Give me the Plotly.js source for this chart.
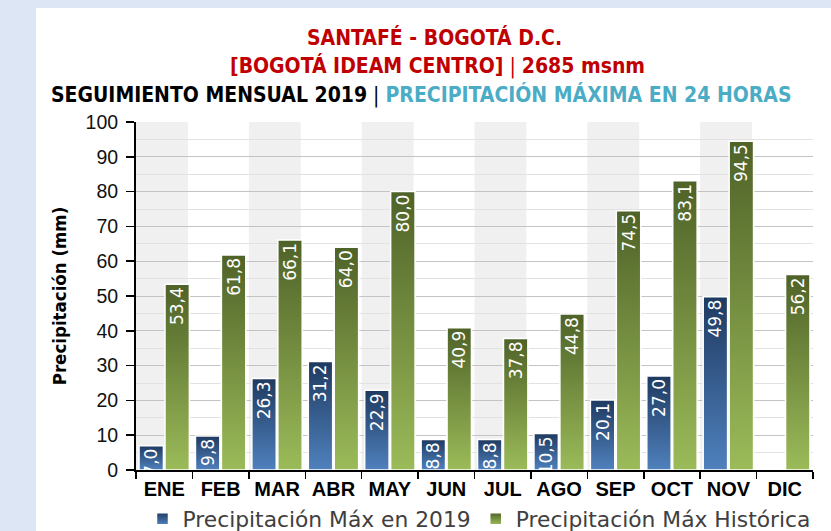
<!DOCTYPE html>
<html>
<head>
<meta charset="utf-8">
<script src="https://cdn.plot.ly/plotly-3.0.1.min.js"></script>
<style>html,body{margin:0;padding:0;background:#dce6f4;}#chart{width:831px;height:531px;}</style>
</head>
<body>
<div id="chart"></div>
<script>
// ---- data ----
var months = ['ENE','FEB','MAR','ABR','MAY','JUN','JUL','AGO','SEP','OCT','NOV','DIC'];
var max2019 = [7.0, 9.8, 26.3, 31.2, 22.9, 8.8, 8.8, 10.5, 20.1, 27.0, 49.8, null];
var maxHist = [53.4, 61.8, 66.1, 64.0, 80.0, 40.9, 37.8, 44.8, 74.5, 83.1, 94.5, 56.2];
var name2019 = 'Precipitación Máx en 2019';
var nameHist = 'Precipitación Máx Histórica';

function fmt(v){ return (v === null || v === undefined) ? '' : v.toFixed(1).replace('.', ','); }

var narrow = '"DejaVu Sans Condensed", "Liberation Sans", sans-serif';
var arial = '"Liberation Sans", Arial, sans-serif';
var labelFont = {family: '"DejaVu Sans", sans-serif', size: 17, color: '#ffffff'};

var common = {
  type: 'bar', x: months,
  textposition: 'inside', insidetextanchor: 'end', textangle: -90,
  constraintext: 'none', cliponaxis: false,
  insidetextfont: labelFont, textfont: labelFont,
  hoverinfo: 'skip'
};
var t1 = Object.assign({}, common, {
  name: name2019, y: max2019, text: max2019.map(fmt),
  marker: {color: '#3a64a0', line: {color: '#ffffff', width: 1.5}}
});
var t2 = Object.assign({}, common, {
  name: nameHist, y: maxHist, text: maxHist.map(fmt),
  marker: {color: '#76933c', line: {color: '#ffffff', width: 1.5}}
});

// layout decorations
var L = 136, R = 18, T = 122, B = 61, W = 831, H = 531;
var pw = W - L - R, ph = H - T - B;
function px2x(p){ return (p - L) / pw; }
function py2y(p){ return (H - B - p) / ph; }

var shapes = [{
  type: 'rect', xref: 'paper', yref: 'paper', layer: 'below',
  x0: px2x(36), x1: px2x(840), y0: py2y(540), y1: py2y(8),
  fillcolor: '#ffffff', line: {width: 0}
}];
months.forEach(function(m, i){
  if (i % 2 === 0) {
    shapes.push({type: 'rect', xref: 'x', yref: 'paper', layer: 'below',
      x0: i - 0.5, x1: i + 0.42, y0: 0, y1: 1,
      fillcolor: '#f0f0f0', line: {width: 0}});
  }
});

var titleFont = {family: narrow, size: 21};
var annotations = [
  {text: '<b>SANTAFÉ - BOGOTÁ D.C.</b>', x: px2x(434), y: py2y(38), font: Object.assign({}, titleFont, {color: '#c00000'})},
  {text: '<b>[BOGOTÁ IDEAM CENTRO]</b> | <b>2685 msnm</b>', x: px2x(437), y: py2y(66), font: Object.assign({}, titleFont, {color: '#c00000'})},
  {text: '<b>SEGUIMIENTO MENSUAL 2019</b> | <b><span style="color:#4bacc6">PRECIPITACIÓN MÁXIMA EN 24 HORAS</span></b>', x: px2x(421), y: py2y(95), font: Object.assign({}, titleFont, {color: '#000000'})}
].map(function(a){ return Object.assign({xref: 'paper', yref: 'paper', xanchor: 'center', yanchor: 'middle', showarrow: false}, a); });

var layout = {
  width: W, height: H,
  margin: {l: L, r: R, t: T, b: B, autoexpand: false},
  paper_bgcolor: '#dce6f4', plot_bgcolor: 'rgba(0,0,0,0)',
  barmode: 'group', bargap: 0.08, bargroupgap: 0.06,
  showlegend: true,
  legend: {orientation: 'h', x: px2x(479), xanchor: 'center', y: py2y(519), yanchor: 'middle',
    font: {family: '"DejaVu Sans", sans-serif', size: 21.8, color: '#404040'},
    bgcolor: 'rgba(0,0,0,0)', itemwidth: 30},
  xaxis: {type: 'category', showgrid: false, ticks: 'outside', tickson: 'boundaries', tickangle: 0,
    ticklen: 7, tickwidth: 1.5, tickcolor: '#000', showline: true, linecolor: '#000', linewidth: 2,
    tickfont: {family: arial, size: 20, color: '#000', weight: 'bold'}, fixedrange: true},
  yaxis: {range: [0, 100], dtick: 10, ticks: 'outside', ticklen: 8, tickwidth: 1.5, tickcolor: '#000',
    ticklabelstandoff: 4,
    showline: true, linecolor: '#000', linewidth: 2, zeroline: false,
    gridcolor: '#c4c4c4', gridwidth: 1,
    minor: {dtick: 5, showgrid: true, gridcolor: '#e2e2e2', gridwidth: 1, ticks: ''},
    tickfont: {family: arial, size: 19.5, color: '#111'},
    title: {text: 'Precipitación (mm)', font: {family: narrow, size: 18.5, color: '#000', weight: 'bold'}, standoff: 14},
    fixedrange: true},
  shapes: shapes,
  annotations: annotations
};

function addGradients(gd){
  var svg = gd.querySelector('svg.main-svg');
  var defs = svg.querySelector('defs');
  var ns = 'http://www.w3.org/2000/svg';
  function grad(id, c0, c1){
    var g = document.createElementNS(ns, 'linearGradient');
    g.setAttribute('id', id); g.setAttribute('x1', '0'); g.setAttribute('y1', '0');
    g.setAttribute('x2', '0'); g.setAttribute('y2', '1');
    [[0, c0], [1, c1]].forEach(function(s){
      var st = document.createElementNS(ns, 'stop');
      st.setAttribute('offset', s[0]); st.setAttribute('stop-color', s[1]);
      g.appendChild(st);
    });
    defs.appendChild(g);
  }
  grad('gBlue', '#1f3a60', '#4f81bd');
  grad('gGreen', '#4f6228', '#9bbb59');
  var ids = ['gBlue', 'gGreen'];
  gd.querySelectorAll('.barlayer .trace').forEach(function(tr, i){
    tr.querySelectorAll('.point path').forEach(function(p){ p.style.fill = 'url(#' + ids[i] + ')'; });
  });
  gd.querySelectorAll('.legend .traces').forEach(function(tr, i){
    tr.querySelectorAll('.legendpoints path').forEach(function(p){ p.style.fill = 'url(#' + ids[i] + ')'; });
  });
}

Plotly.newPlot('chart', [t1, t2], layout, {staticPlot: true, displayModeBar: false}).then(addGradients);
</script>
</body>
</html>
